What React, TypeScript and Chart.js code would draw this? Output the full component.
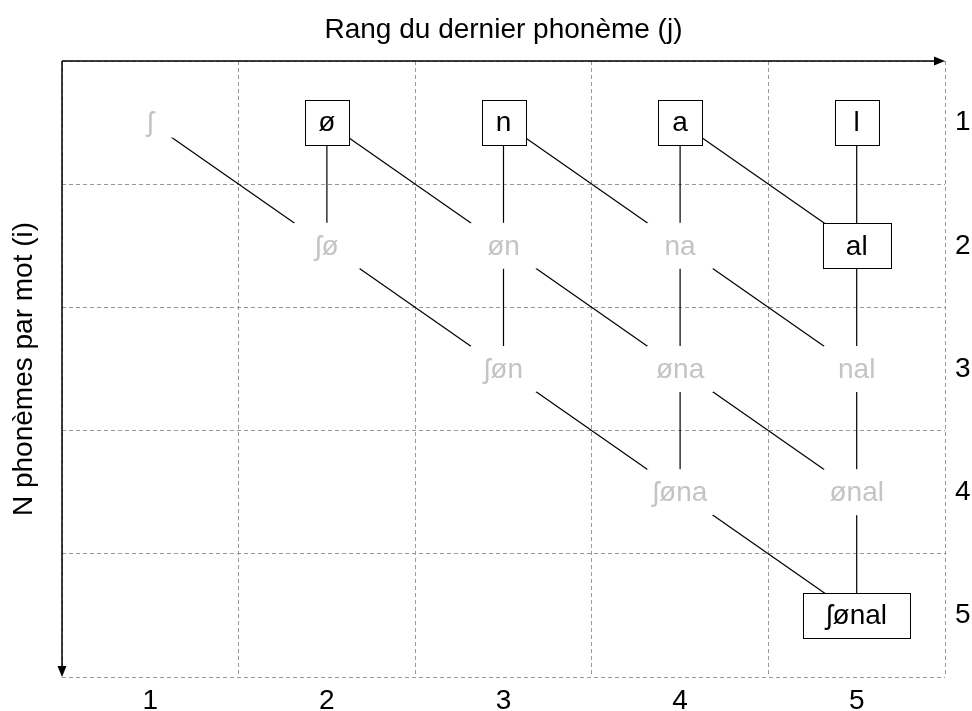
import React, { useEffect, useRef } from 'react';
import { Chart, registerables } from 'chart.js';

Chart.register(...registerables);

const xTickLabels = ['1', '2', '3', '4', '5'];
const yTickLabels = ['1', '2', '3', '4', '5'];
const xTitle = 'Rang du dernier phonème (j)';
const yTitle = 'N phonèmes par mot (i)';

const nodeLabels = ['ʃ', 'ø', 'n', 'a', 'l', 'ʃø', 'øn', 'na', 'al', 'ʃøn', 'øna', 'nal', 'ʃøna', 'ønal', 'ʃønal'];
const nodeCols = [1, 2, 3, 4, 5, 2, 3, 4, 5, 3, 4, 5, 4, 5, 5];
const nodeRows = [1, 1, 1, 1, 1, 2, 2, 2, 2, 3, 3, 3, 4, 4, 5];
const nodeBoxed = [false, true, true, true, true, false, false, false, true, false, false, false, false, false, true];

const edgeFrom = [1, 2, 6, 3, 7, 10, 4, 8, 11, 13, 0, 1, 2, 3, 5, 6, 7, 9, 10, 12];
const edgeTo = [5, 6, 9, 7, 10, 12, 8, 11, 13, 14, 5, 6, 7, 8, 9, 10, 11, 12, 13, 14];

const FAMILY = '"Liberation Sans", Arial, sans-serif';
const FSIZE = 28;

const gridTicks = (labels: string[]) => (scale: any) => {
  const t: any[] = [];
  for (let i = 0; i <= labels.length; i++) {
    t.push({ value: i + 0.5 });
    if (i < labels.length) t.push({ value: i + 1 });
  }
  scale.ticks = t;
};

const gridColor = (c: any) =>
  c.tick && Number.isInteger(c.tick.value) ? 'rgba(0,0,0,0)' : '#9a9a9a';

const latticePlugin = {
  id: 'lattice',
  afterDatasetsDraw(chart: any) {
    const { ctx, scales } = chart;
    const xs = scales.x;
    const ys = scales.y;
    ctx.save();
    ctx.font = `${FSIZE}px ${FAMILY}`;
    ctx.textAlign = 'center';
    ctx.textBaseline = 'middle';
    nodeLabels.forEach((lab, k) => {
      const px = xs.getPixelForValue(nodeCols[k]);
      const py = ys.getPixelForValue(nodeRows[k]);
      const tw = ctx.measureText(lab).width;
      if (nodeBoxed[k]) {
        const w = Math.round(lab.length > 1 ? tw + 46 : 44);
        const h = 45;
        const x0 = Math.round(px - w / 2) + 0.5;
        const y0 = Math.round(py - h / 2) + 0.5;
        ctx.fillStyle = '#ffffff';
        ctx.fillRect(x0, y0, w, h);
        ctx.strokeStyle = '#000000';
        ctx.lineWidth = 1;
        ctx.strokeRect(x0, y0, w, h);
        ctx.fillStyle = '#000000';
      } else {
        const hw = 33;
        const hh = lab.length > 1 ? 23 : 15;
        ctx.fillStyle = '#ffffff';
        ctx.fillRect(px - hw, py - hh, 2 * hw, 2 * hh);
        ctx.fillStyle = '#c4c4c4';
      }
      ctx.fillText(lab, px, py + 1);
    });
    ctx.restore();
  },
  afterDraw(chart: any) {
    const { ctx } = chart;
    const { left, top, right, bottom } = chart.chartArea;
    ctx.save();
    ctx.strokeStyle = '#000';
    ctx.fillStyle = '#000';
    ctx.lineWidth = 1.5;
    ctx.beginPath();
    ctx.moveTo(left, top);
    ctx.lineTo(right - 8, top);
    ctx.moveTo(left, top);
    ctx.lineTo(left, bottom - 8);
    ctx.stroke();
    ctx.beginPath();
    ctx.moveTo(right, top);
    ctx.lineTo(right - 11, top - 4.5);
    ctx.lineTo(right - 11, top + 4.5);
    ctx.closePath();
    ctx.fill();
    ctx.beginPath();
    ctx.moveTo(left, bottom);
    ctx.lineTo(left - 4.5, bottom - 11);
    ctx.lineTo(left + 4.5, bottom - 11);
    ctx.closePath();
    ctx.fill();
    ctx.restore();
  },
};

export default function App() {
  const ref = useRef<HTMLCanvasElement | null>(null);
  useEffect(() => {
    if (!ref.current) return;
    const datasets = edgeFrom.map((f, e) => ({
      data: [
        { x: nodeCols[f], y: nodeRows[f] },
        { x: nodeCols[edgeTo[e]], y: nodeRows[edgeTo[e]] },
      ],
      showLine: true,
      borderColor: '#000000',
      borderWidth: 1.2,
      pointRadius: 0,
      pointHoverRadius: 0,
      fill: false,
    }));
    const tickFont = { family: FAMILY, size: FSIZE };
    const chart = new Chart(ref.current, {
      type: 'scatter',
      data: { datasets },
      plugins: [latticePlugin],
      options: {
        animation: false,
        responsive: true,
        maintainAspectRatio: false,
        events: [],
        layout: { padding: 0 },
        plugins: { legend: { display: false }, tooltip: { enabled: false } },
        scales: {
          x: {
            type: 'linear',
            position: 'bottom',
            min: 0.5,
            max: 5.5,
            afterBuildTicks: gridTicks(xTickLabels),
            afterFit: (s: any) => { s.height = 34; },
            grid: { color: gridColor, lineWidth: 1, drawTicks: false },
            border: { display: false, dash: [4, 3] },
            ticks: {
              autoSkip: false,
              maxRotation: 0,
              padding: 7,
              color: '#000',
              font: tickFont,
              callback: (v: any) => (Number.isInteger(v) ? xTickLabels[v - 1] : ''),
            },
          },
          y: {
            type: 'linear',
            position: 'right',
            reverse: true,
            min: 0.5,
            max: 5.5,
            afterBuildTicks: gridTicks(yTickLabels),
            afterFit: (s: any) => { s.width = 27; },
            grid: { color: gridColor, lineWidth: 1, drawTicks: false },
            border: { display: false, dash: [4, 3] },
            ticks: {
              autoSkip: false,
              padding: 10,
              color: '#000',
              font: tickFont,
              callback: (v: any) => (Number.isInteger(v) ? yTickLabels[v - 1] : ''),
            },
          },
          xTop: {
            type: 'linear',
            position: 'top',
            display: true,
            afterFit: (s: any) => { s.height = 61; },
            grid: { display: false },
            border: { display: false },
            ticks: { display: false },
            title: {
              display: true,
              text: xTitle,
              color: '#000',
              font: tickFont,
              padding: { top: 13, bottom: 0 },
            },
          },
          yLeft: {
            type: 'linear',
            position: 'left',
            display: true,
            afterFit: (s: any) => { s.width = 62; },
            grid: { display: false },
            border: { display: false },
            ticks: { display: false },
            title: {
              display: true,
              text: yTitle,
              color: '#000',
              font: tickFont,
              padding: { top: 7, bottom: 0 },
            },
          },
        },
      } as any,
    });
    return () => chart.destroy();
  }, []);
  return (
    <div style={{ position: 'absolute', left: 0, top: 0, width: 972, height: 711, background: '#fff' }}>
      <canvas ref={ref} />
    </div>
  );
}
